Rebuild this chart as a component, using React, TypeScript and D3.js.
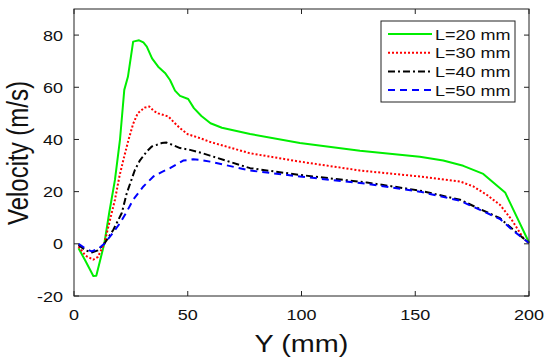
import * as d3 from 'd3';

// [Y (mm), velocity (m/s)]
const l20: [number, number][] = [
  [2, -1.7], [5, -6.5], [8.5, -12.3], [9.8, -12.2], [13.3, 0], [15.5, 12], [18, 24.5],
  [20.2, 39.8], [22.1, 59], [23.7, 64], [26, 77.5], [28.6, 78], [30.5, 77.2], [32, 75.6],
  [34.3, 71.1], [37, 67.9], [40, 65.5], [42.2, 62.8], [44.4, 58.7], [46.6, 56.7],
  [50.2, 55.5], [52.7, 52], [56, 49], [60, 46.2], [65, 44.5], [77.4, 42.1], [99.3, 38.6],
  [125.7, 35.7], [152, 33.4], [162.3, 31.9], [171.1, 29.9], [179.9, 26.8], [189.5, 19.7],
  [200, 0.5],
];
const l30: [number, number][] = [
  [2, -1], [5, -4.5], [8.4, -6.1], [10.5, -5], [13.3, 0], [15.5, 8], [18, 16.9],
  [20, 26], [21.7, 32.2], [24, 40], [26, 46], [28, 50], [31, 52.2], [33.1, 52.6],
  [35, 51], [37, 50], [41.5, 48.8], [44, 46.5], [46.6, 44.3], [50, 42], [55.4, 40.5],
  [60, 39], [77.4, 34.7], [99.3, 31.5], [125.7, 28.1], [152, 25.8], [169.7, 23.9],
  [175.5, 22], [181.4, 18.8], [187.3, 14.9], [192.4, 9.2], [197.5, 2.2], [200, 0.3],
];
const l40: [number, number][] = [
  [2, -0.4], [5, -2.5], [8, -3.3], [10.5, -2.5], [13.3, 0], [17.3, 5.4], [21, 11.8],
  [23.2, 19.4], [26.8, 28.4], [29, 32], [32, 35.4], [34.2, 37.3], [36.3, 37.9],
  [38.5, 38.6], [40.7, 38.8], [43, 38], [46.6, 36.7], [51, 36], [55.4, 35], [59.8, 33.8],
  [77.4, 29], [99.3, 26.4], [128.7, 23.5], [152, 20.4], [169.7, 16.9], [178.5, 13.3],
  [187.3, 9.8], [193.1, 5.4], [200, 0.3],
];
const l50: [number, number][] = [
  [2, 0], [5, -1.8], [7.8, -2.9], [10.5, -2], [13.3, 0], [16.5, 3.5], [20.2, 7.9],
  [23, 12], [26, 16.9], [30.5, 22], [34.9, 25.8], [38.5, 27.5], [42.2, 29], [48, 31.9],
  [52.4, 32.4], [55.4, 32.2], [59.8, 31.5], [77.4, 28.1], [99.3, 25.8], [128.7, 23],
  [152, 20], [169.7, 16.5], [178.5, 13], [187.3, 9.5], [193.1, 5], [200, 0.3],
];

const xTicks = [0, 50, 100, 150, 200];
const yTicks = [-20, 0, 20, 40, 60, 80];

const series = [
  { name: 'L=20 mm', data: l20, color: '#00ee00', dash: 'none' },
  { name: 'L=30 mm', data: l30, color: '#ff0000', dash: '2,2' },
  { name: 'L=40 mm', data: l40, color: '#000000', dash: '7,3,2,3' },
  { name: 'L=50 mm', data: l50, color: '#0000ff', dash: '7,5' },
];

const W = 550;
const H = 361;
const m = { left: 74, right: 529, top: 9, bottom: 296 };
const font = '"Liberation Sans", Arial, Helvetica, sans-serif';
// the source picture is stretched sideways a little, text included
const sx = 1.2;

function Txt({ x, y, size, anchor = 'start', children }: any) {
  return (
    <text
      transform={`translate(${x},${y}) scale(${sx},1)`}
      textAnchor={anchor}
      fontFamily={font}
      fontSize={size}
      fill="#111"
    >
      {children}
    </text>
  );
}

export default function App() {
  const x = d3.scaleLinear().domain([0, 200]).range([m.left, m.right]);
  const y = d3.scaleLinear().domain([-20, 90]).range([m.bottom, m.top]);
  const line = d3.line<[number, number]>()
    .x((d) => x(d[0]))
    .y((d) => y(d[1]));

  const tick = 5;
  const legX = 381;
  const legY = 21;
  const rowH = 18.7;

  return (
    <div style={{ position: 'absolute', left: 0, top: 0 }}>
      <svg width={W} height={H} style={{ display: 'block', background: '#fff' }}>
        {/* curves */}
        {series.map((s) => (
          <path
            key={s.name}
            d={line(s.data) || ''}
            fill="none"
            stroke={s.color}
            strokeWidth={2}
            strokeDasharray={s.dash}
            strokeLinejoin="round"
          />
        ))}

        {/* axes box */}
        <rect
          x={m.left}
          y={m.top}
          width={m.right - m.left}
          height={m.bottom - m.top}
          fill="none"
          stroke="#222"
          strokeWidth={1}
        />
        {xTicks.map((t) => (
          <g key={'x' + t}>
            <line x1={x(t)} x2={x(t)} y1={m.bottom} y2={m.bottom - tick} stroke="#222" />
            <line x1={x(t)} x2={x(t)} y1={m.top} y2={m.top + tick} stroke="#222" />
            <Txt x={x(t)} y={m.bottom + 24} size={15} anchor="middle">{t}</Txt>
          </g>
        ))}
        {yTicks.map((t) => (
          <g key={'y' + t}>
            <line x1={m.left} x2={m.left + tick} y1={y(t)} y2={y(t)} stroke="#222" />
            <line x1={m.right} x2={m.right - tick} y1={y(t)} y2={y(t)} stroke="#222" />
            <Txt x={m.left - 11} y={y(t) + 5.5} size={15} anchor="end">{t}</Txt>
          </g>
        ))}

        {/* axis labels */}
        <Txt x={(m.left + m.right) / 2} y={352} size={24} anchor="middle">Y (mm)</Txt>
        <text
          transform={`translate(28,153) rotate(-90) scale(1,${sx})`}
          textAnchor="middle"
          fontFamily={font}
          fontSize={24}
          fill="#111"
        >
          Velocity (m/s)
        </text>

        {/* legend */}
        <rect x={legX} y={legY} width={134} height={81} fill="#fff" stroke="#222" strokeWidth={1} />
        {series.map((s, i) => {
          const cy = legY + 13 + i * rowH;
          return (
            <g key={'leg' + s.name}>
              <line
                x1={legX + 7}
                x2={legX + 51}
                y1={cy}
                y2={cy}
                stroke={s.color}
                strokeWidth={2}
                strokeDasharray={s.dash}
              />
              <Txt x={legX + 54} y={cy + 5.5} size={15}>{s.name}</Txt>
            </g>
          );
        })}
      </svg>
    </div>
  );
}
